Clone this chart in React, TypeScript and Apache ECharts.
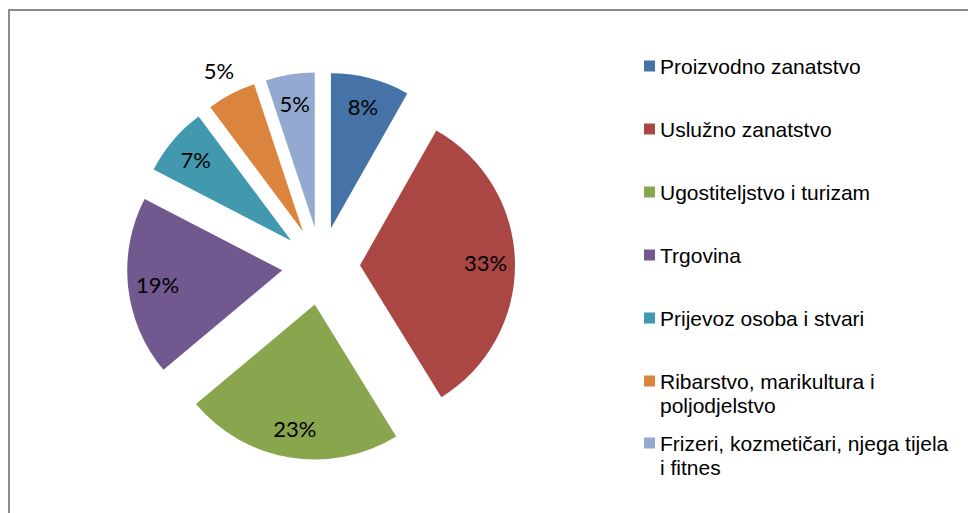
import React, { useEffect, useRef } from "react";
import * as echarts from "echarts";

const categories = [
  "Proizvodno zanatstvo",
  "Uslužno zanatstvo",
  "Ugostiteljstvo i turizam",
  "Trgovina",
  "Prijevoz osoba i stvari",
  "Ribarstvo, marikultura i poljodjelstvo",
  "Frizeri, kozmetičari, njega tijela i fitnes",
];
const legendLabels = [
  "Proizvodno zanatstvo",
  "Uslužno zanatstvo",
  "Ugostiteljstvo i turizam",
  "Trgovina",
  "Prijevoz osoba i stvari",
  "Ribarstvo, marikultura i\npoljodjelstvo",
  "Frizeri, kozmetičari, njega tijela\ni fitnes",
];
const values = [8.2, 33.0, 22.7, 18.7, 7.2, 5.1, 5.1];
const colors = ["#4572A7", "#AA4643", "#89A54E", "#71588F", "#4198AF", "#DB843D", "#93A9CF"];
const labelOutside = [false, false, false, false, false, true, false];

export default function App() {
  const ref = useRef<HTMLDivElement>(null);
  useEffect(() => {
    if (!ref.current) return;
    const chart = echarts.init(ref.current, null, { renderer: "svg" });
    const center = [321, 266];
    const offset = 39;
    const pct = (p: any) => Math.round(p.percent) + "%";
    const labelFont = { color: "#000", fontFamily: "Lato", fontSize: 22 };
    const legendText = {
      color: "#000",
      fontFamily: "Liberation Sans",
      fontSize: 21,
      lineHeight: 24,
    };
    const legendBase = {
      orient: "vertical",
      left: 644,
      padding: 0,
      itemWidth: 11,
      itemHeight: 11,
      icon: "rect",
      selectedMode: false,
      textStyle: legendText,
    };
    // multi-line entries get a leading empty line so the marker sits on the first text line
    const fmtMulti = (n: string) => "\n" + legendLabels[categories.indexOf(n)];
    chart.setOption({
      animation: false,
      graphic: [
        {
          type: "rect",
          shape: { x: 9, y: 10, width: 1000, height: 600 },
          style: { fill: null, stroke: "#8c8c8c", lineWidth: 2 },
          silent: true,
        },
      ],
      legend: [
        {
          ...legendBase,
          top: 54,
          itemGap: 39,
          data: categories.slice(0, 5),
        },
        {
          ...legendBase,
          top: 345,
          data: [categories[5]],
          formatter: fmtMulti,
        },
        {
          ...legendBase,
          top: 407,
          data: [categories[6]],
          formatter: fmtMulti,
        },
      ],
      series: [
        {
          type: "pie",
          center,
          radius: [0, 155],
          startAngle: 90,
          clockwise: true,
          selectedMode: "multiple",
          selectedOffset: offset,
          avoidLabelOverlap: false,
          label: { show: false },
          labelLine: { show: false },
          emphasis: { disabled: true },
          data: categories.map((name, i) => ({
            name,
            value: values[i],
            selected: true,
            itemStyle: { color: colors[i] },
            select: { itemStyle: { color: colors[i] } },
          })),
        },
        {
          type: "pie",
          center,
          radius: [90, 155],
          startAngle: 90,
          clockwise: true,
          silent: true,
          selectedMode: "multiple",
          selectedOffset: offset,
          avoidLabelOverlap: false,
          labelLine: { show: false },
          emphasis: { disabled: true },
          data: categories.map((name, i) => ({
            name,
            value: values[i],
            selected: true,
            itemStyle: { color: "transparent" },
            select: { itemStyle: { color: "transparent" } },
            label: { show: !labelOutside[i], position: "inside", formatter: pct, ...labelFont },
          })),
        },
        {
          type: "pie",
          center,
          radius: [170, 187],
          startAngle: 90,
          clockwise: true,
          silent: true,
          selectedMode: "multiple",
          selectedOffset: offset,
          avoidLabelOverlap: false,
          labelLine: { show: false },
          emphasis: { disabled: true },
          data: categories.map((name, i) => ({
            name,
            value: values[i],
            selected: true,
            itemStyle: { color: "transparent" },
            select: { itemStyle: { color: "transparent" } },
            label: { show: labelOutside[i], position: "inside", formatter: pct, ...labelFont },
          })),
        },
      ],
    });
    return () => chart.dispose();
  }, []);
  return (
    <div
      ref={ref}
      style={{ position: "absolute", left: 0, top: 0, width: 968, height: 513, background: "#fff" }}
    />
  );
}
